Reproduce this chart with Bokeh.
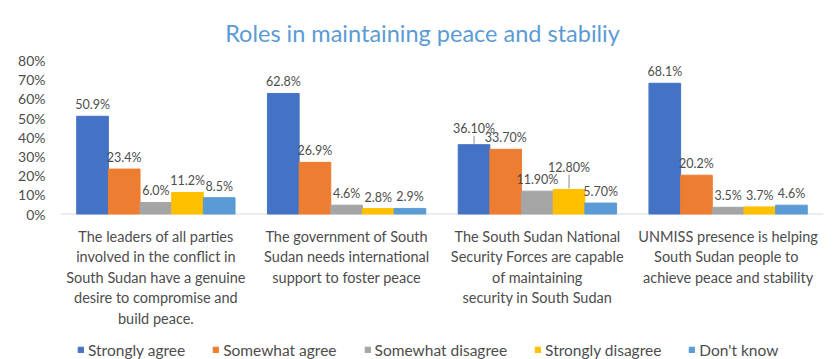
from bokeh.plotting import figure
from bokeh.models import ColumnDataSource, FixedTicker, Legend, LegendItem, Range1d
from bokeh.core.properties import value
from bokeh.embed import file_html
from bokeh.resources import INLINE

# ---------------- data ----------------
categories = [
    "The leaders of all parties\ninvolved in the conflict in\nSouth Sudan have a genuine\ndesire to compromise and\nbuild peace.",
    "The government of South\nSudan needs international\nsupport to foster peace",
    "The South Sudan National\nSecurity Forces are capable\nof maintaining\nsecurity in South Sudan",
    "UNMISS presence is helping\nSouth Sudan  people to\nachieve peace and stability",
]
series = ["Strongly agree", "Somewhat agree", "Somewhat disagree", "Strongly disagree", "Don't know"]
strongly_agree = [50.9, 62.8, 36.1, 68.1]
somewhat_agree = [23.4, 26.9, 33.7, 20.2]
somewhat_disagree = [6.0, 4.6, 11.9, 3.5]
strongly_disagree = [11.2, 2.8, 12.8, 3.7]
dont_know = [8.5, 2.9, 5.7, 4.6]
label_strongly_agree = ["50.9%", "62.8%", "36.10%", "68.1%"]
label_somewhat_agree = ["23.4%", "26.9%", "33.70%", "20.2%"]
label_somewhat_disagree = ["6.0%", "4.6%", "11.90%", "3.5%"]
label_strongly_disagree = ["11.2%", "2.8%", "12.80%", "3.7%"]
label_dont_know = ["8.5%", "2.9%", "5.70%", "4.6%"]
y_ticks = [0, 10, 20, 30, 40, 50, 60, 70, 80]
y_tick_labels = ["0%", "10%", "20%", "30%", "40%", "50%", "60%", "70%", "80%"]
title_text = "Roles in maintaining peace and stabiliy"

values = [strongly_agree, somewhat_agree, somewhat_disagree, strongly_disagree, dont_know]
labels = [label_strongly_agree, label_somewhat_agree, label_somewhat_disagree,
          label_strongly_disagree, label_dont_know]

# ---------------- layout / style ----------------
W, H = 835, 359
LEFT, RIGHT = 60, 12            # frame borders in px
ZERO_PX = 213.5                 # canvas y of the 0% baseline
PX_PER_UNIT = 1.92              # px per percentage point
x_px_per_unit = (W - LEFT - RIGHT) / 4.0

def px_to_y(py):
    return (ZERO_PX - py) / PX_PER_UNIT

def px_to_x(px):
    return (px - LEFT) / x_px_per_unit

colors = ["#4472C4", "#ED7D31", "#A5A5A5", "#FFC000", "#5B9BD5"]
FONT = "Lato"
TXT = "#4D4D4D"
bar_w = 0.166
normal_lift = 11.5
# labels lifted with a leader line: (series, category) -> (label lift px, leader length px)
leader_lifts = {(0, 2): (16, 9), (3, 2): (22, 15)}

p = figure(width=W, height=H, x_range=Range1d(0, 4),
           y_range=Range1d(px_to_y(H), px_to_y(0)),
           output_backend="svg", toolbar_location=None, x_axis_location=None,
           min_border_left=LEFT, min_border_right=RIGHT, min_border_top=0, min_border_bottom=0)
p.outline_line_color = None
p.background_fill_color = "white"
p.border_fill_color = "white"
p.xgrid.visible = False
p.ygrid.visible = False

# title
p.text(x=[px_to_x(422)], y=[px_to_y(32)], text=[title_text], text_align="center",
       text_baseline="alphabetic", text_font=value(FONT), text_font_size="23.5px",
       text_color="#5B9BD5")

# baseline axis line
p.segment(x0=[0], y0=[0], x1=[4], y1=[0], line_color="#D9D9D9", line_width=1)

legend_items = []
for si, (name, vals, labs, col) in enumerate(zip(series, values, labels, colors)):
    off = (si - 2) * bar_w
    xs = [i + 0.5 + off for i in range(len(vals))]
    lifts = [leader_lifts.get((si, ci), (normal_lift, 0))[0] for ci in range(len(vals))]
    src = ColumnDataSource(dict(x=xs, top=vals, text=labs, yo=[-l for l in lifts]))
    r = p.vbar(x="x", top="top", width=bar_w, color=col, source=src)
    legend_items.append(LegendItem(label=name, renderers=[r]))
    p.text(x="x", y="top", text="text", y_offset="yo", source=src,
           text_align="center", text_baseline="alphabetic",
           text_font=value(FONT), text_font_size="12.5px", text_color=TXT)
    lx, ly0, ly1 = [], [], []
    for ci in range(len(vals)):
        if (si, ci) in leader_lifts:
            lx.append(xs[ci])
            ly0.append(vals[ci] + 1 / PX_PER_UNIT)
            ly1.append(vals[ci] + leader_lifts[(si, ci)][1] / PX_PER_UNIT)
    if lx:
        p.segment(x0=lx, y0=ly0, x1=lx, y1=ly1, line_color="#8C8C8C", line_width=1)

# category labels
cat_x = [i + 0.5 for i in range(len(categories))]
p.text(x=cat_x, y=[0] * len(categories), text=categories, y_offset=14,
       text_align="center", text_baseline="top", text_line_height=1.2,
       text_font=value(FONT), text_font_size="14.5px", text_color=TXT)

# y axis
p.yaxis.ticker = FixedTicker(ticks=y_ticks)
p.yaxis.major_label_overrides = {t: l for t, l in zip(y_ticks, y_tick_labels)}
p.yaxis.axis_line_color = None
p.yaxis.major_tick_line_color = None
p.yaxis.minor_tick_line_color = None
p.yaxis.major_tick_out = 0
p.yaxis.major_tick_in = 0
p.yaxis.major_label_standoff = 15
p.yaxis.major_label_text_font = FONT
p.yaxis.major_label_text_font_size = "14px"
p.yaxis.major_label_text_color = TXT

legend = Legend(items=legend_items, orientation="horizontal", location=(17, 0),
                glyph_width=7, glyph_height=7, label_text_font=FONT,
                label_text_font_size="15.5px", label_text_color=TXT,
                label_height=19, spacing=27, label_standoff=4, border_line_color=None,
                background_fill_alpha=0, margin=0, padding=0)
p.add_layout(legend, "center")

open("out.html", "w").write(file_html(p, INLINE))
